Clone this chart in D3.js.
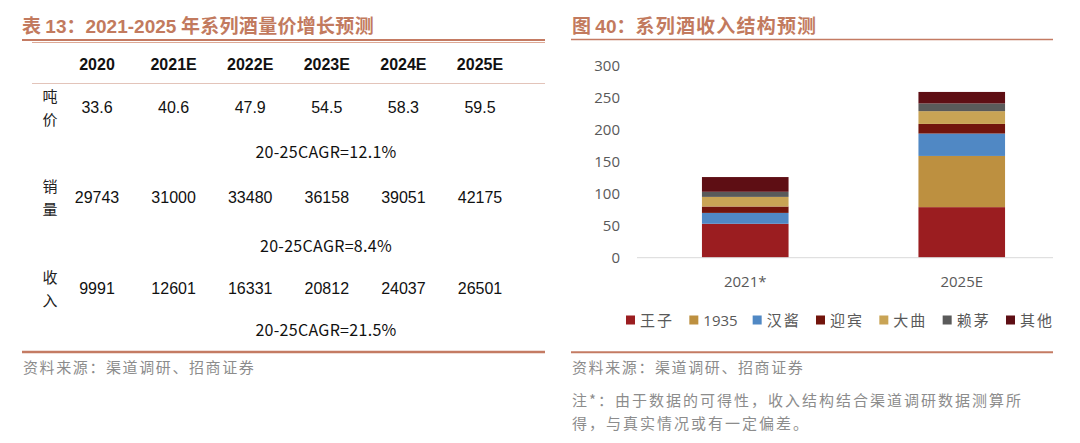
<!DOCTYPE html>
<html>
<head>
<meta charset="utf-8">
<script src="https://cdn.jsdelivr.net/npm/d3@7"></script>
<style>
  body { margin: 0; background: #fff; }
  svg { display: block; }
</style>
</head>
<body>
<div id="wrapper"></div>
<script>
// 表格数据
const years = ["2020", "2021E", "2022E", "2023E", "2024E", "2025E"];
const rowLabels = [["吨", "价"], ["销", "量"], ["收", "入"]];
const pricePerTon = [33.6, 40.6, 47.9, 54.5, 58.3, 59.5];
const volume = [29743, 31000, 33480, 36158, 39051, 42175];
const revenue = [9991, 12601, 16331, 20812, 24037, 26501];
const cagrLabels = ["20-25CAGR=12.1%", "20-25CAGR=8.4%", "20-25CAGR=21.5%"];

// 图表数据
const categories = ["2021*", "2025E"];
const seriesNames = ["王子", "1935", "汉酱", "迎宾", "大曲", "赖茅", "其他"];
const wangzi = [53, 79];
const s1935 = [0, 80];
const hanjiang = [17, 35];
const yingbin = [10, 15];
const daqu = [15, 20];
const laimao = [8, 12];
const others = [23, 18];
const yTicks = [0, 50, 100, 150, 200, 250, 300];

const colors = ["#9B1D20", "#BD9040", "#5088C4", "#72140C", "#C9A455", "#5A5A5A", "#5E0E14"];

const titleColor = "#C27A5E";
const sourceColor = "#8C8C8C";
const cjk = "'Noto Sans CJK SC', sans-serif";
const latin = "'Liberation Sans', Arial, sans-serif";

const svg = d3.select("#wrapper").append("svg")
    .attr("width", 1080)
    .attr("height", 443);

// 标题：中文与数字分开设置字体
function title(g, x, parts) {
    const t = g.append("text")
        .attr("x", x).attr("y", 33)
        .attr("fill", titleColor)
        .attr("font-weight", "bold")
        .attr("font-size", 19);
    parts.forEach(p => {
        t.append("tspan")
            .attr("font-family", p[1] ? latin : cjk)
            .attr("letter-spacing", p[2] || 0)
            .text(p[0]);
    });
}

// ---------- 左侧表格 ----------
const left = svg.append("g");

title(left, 22, [["表 ", false], ["13", true], ["：", false], ["2021-2025", true], [" 年系列酒量价增长预测", false, 0.3]]);

left.append("line").attr("x1", 22).attr("x2", 545).attr("y1", 40).attr("y2", 40)
    .attr("stroke", "#C47B63").attr("stroke-width", 2);
left.append("line").attr("x1", 32).attr("x2", 545).attr("y1", 42.5).attr("y2", 42.5)
    .attr("stroke", "#DDA996").attr("stroke-width", 1);

const xCol = d3.scalePoint().domain(years).range([97, 480]);

left.selectAll(".year").data(years).join("text")
    .attr("x", d => xCol(d)).attr("y", 70)
    .attr("text-anchor", "middle")
    .attr("font-family", latin)
    .attr("font-weight", "bold")
    .attr("font-size", 16)
    .attr("fill", "#111")
    .text(d => d);

left.append("line").attr("x1", 32).attr("x2", 545).attr("y1", 83.5).attr("y2", 83.5)
    .attr("stroke", "#E3C4BA").attr("stroke-width", 1);

const rows = [pricePerTon, volume, revenue];
const rowY = [107, 197, 288];
const cagrY = [152, 246, 330];

rows.forEach((vals, i) => {
    const g = left.append("g");
    g.selectAll("text.lab").data(rowLabels[i]).join("text")
        .attr("class", "lab")
        .attr("x", 50)
        .attr("y", (d, j) => rowY[i] - 5 + j * 23)
        .attr("text-anchor", "middle")
        .attr("font-family", cjk)
        .attr("font-size", 15)
        .attr("fill", "#222")
        .text(d => d);
    g.selectAll("text.val").data(vals).join("text")
        .attr("class", "val")
        .attr("x", (d, j) => xCol(years[j]))
        .attr("y", rowY[i] + 6)
        .attr("text-anchor", "middle")
        .attr("font-family", latin)
        .attr("font-size", 16)
        .attr("fill", "#111")
        .text(d => d);
    g.append("text")
        .attr("x", 326).attr("y", cagrY[i] + 6)
        .attr("text-anchor", "middle")
        .attr("font-family", cjk)
        .attr("font-size", 16)
        .attr("letter-spacing", 0.3)
        .attr("fill", "#111")
        .text(cagrLabels[i]);
});

left.append("line").attr("x1", 22).attr("x2", 545).attr("y1", 352).attr("y2", 352)
    .attr("stroke", "#C47B63").attr("stroke-width", 2.5);

left.append("text")
    .attr("x", 23).attr("y", 373)
    .attr("fill", sourceColor)
    .attr("font-family", cjk)
    .attr("font-size", 15)
    .attr("letter-spacing", 1.6)
    .text("资料来源：渠道调研、招商证券");

// ---------- 右侧图表 ----------
const right = svg.append("g");

title(right, 572, [["图 ", false], ["40", true], ["：", false], ["系列酒收入结构预测", false, 1.2]]);

right.append("line").attr("x1", 571).attr("x2", 1053).attr("y1", 39.5).attr("y2", 39.5)
    .attr("stroke", "#C47B63").attr("stroke-width", 1.5);

const yScaler = d3.scaleLinear().domain([0, 300]).range([257.7, 65.7]);
const xScaler = d3.scaleBand().domain(categories).range([637, 1070])
    .paddingInner(0.6).paddingOuter(0.3);

const tableData = categories.map((c, i) => ({
    cat: c,
    "王子": wangzi[i], "1935": s1935[i], "汉酱": hanjiang[i], "迎宾": yingbin[i],
    "大曲": daqu[i], "赖茅": laimao[i], "其他": others[i]
}));
const stacked = d3.stack().keys(seriesNames)(tableData);

const yAxis = d3.axisLeft(yScaler).tickValues(yTicks).tickSize(0).tickPadding(0);
const yg = right.append("g").attr("transform", "translate(620,0)").call(yAxis);
yg.select(".domain").remove();
yg.selectAll("text")
    .attr("font-family", "'Open Sans', sans-serif")
    .attr("font-size", 15)
    .attr("fill", "#595959");

right.selectAll(".layer").data(stacked).join("g")
    .attr("fill", (d, i) => colors[i])
    .selectAll("rect").data(d => d).join("rect")
    .attr("x", d => xScaler(d.data.cat))
    .attr("width", xScaler.bandwidth())
    .attr("y", d => yScaler(d[1]))
    .attr("height", d => yScaler(d[0]) - yScaler(d[1]));

right.append("line").attr("x1", 637).attr("x2", 1053)
    .attr("y1", yScaler(0)).attr("y2", yScaler(0))
    .attr("stroke", "#D9D9D9").attr("stroke-width", 1);

const xAxis = d3.axisBottom(xScaler).tickSize(0).tickPadding(0);
const xg = right.append("g").attr("transform", "translate(0,276)").call(xAxis);
xg.select(".domain").remove();
xg.selectAll("text")
    .attr("font-family", "'Open Sans', sans-serif")
    .attr("font-size", 15)
    .attr("fill", "#595959");

// 图例
const legendX = d3.scalePoint().domain(seriesNames).range([626, 1006]);
const legend = right.selectAll(".legend").data(seriesNames).join("g")
    .attr("transform", d => `translate(${legendX(d)},320)`);
legend.append("rect")
    .attr("x", 0).attr("y", -4.5).attr("width", 9).attr("height", 9)
    .attr("fill", (d, i) => colors[i]);
legend.append("text")
    .attr("x", 14).attr("y", 6)
    .attr("font-family", (d) => d === "1935" ? "'Open Sans', sans-serif" : cjk)
    .attr("font-size", 15)
    .attr("letter-spacing", (d) => d === "1935" ? 0 : 2)
    .attr("fill", "#595959")
    .text(d => d);

right.append("line").attr("x1", 571).attr("x2", 1053).attr("y1", 352.3).attr("y2", 352.3)
    .attr("stroke", "#C47B63").attr("stroke-width", 2);

right.append("text")
    .attr("x", 572).attr("y", 373)
    .attr("fill", sourceColor)
    .attr("font-family", cjk)
    .attr("font-size", 15)
    .attr("letter-spacing", 1.6)
    .text("资料来源：渠道调研、招商证券");

const notes = ["注*：由于数据的可得性，收入结构结合渠道调研数据测算所", "得，与真实情况或有一定偏差。"];
right.selectAll(".note").data(notes).join("text")
    .attr("x", 572)
    .attr("y", (d, i) => 406 + i * 23)
    .attr("fill", sourceColor)
    .attr("font-family", cjk)
    .attr("font-size", 15)
    .attr("letter-spacing", 2)
    .text(d => d);
</script>
</body>
</html>
